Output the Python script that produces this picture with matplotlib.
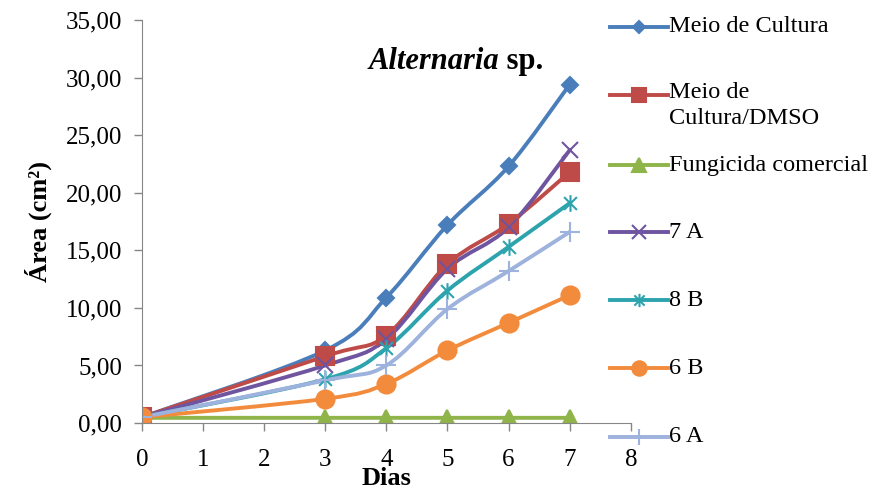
import matplotlib
matplotlib.use("Agg")
import matplotlib.pyplot as plt
import numpy as np
from matplotlib.path import Path
from matplotlib.patches import PathPatch
from matplotlib.lines import Line2D

plt.rcParams['font.family'] = ['Liberation Serif', 'DejaVu Serif']

# days observed
dias = [0, 3, 4, 5, 6, 7]

# area (cm2) per treatment
meio_cultura = [0.5, 6.3, 10.9, 17.2, 22.3, 29.4]
meio_dmso = [0.5, 5.8, 7.6, 13.8, 17.3, 21.8]
fungicida = [0.45, 0.45, 0.45, 0.45, 0.45, 0.45]
s7a = [0.5, 5.0, 7.3, 13.4, 17.0, 23.7]
s8b = [0.5, 3.8, 6.5, 11.5, 15.3, 19.1]
s6b = [0.5, 2.1, 3.4, 6.3, 8.7, 11.1]
s6a = [0.5, 3.7, 5.0, 9.9, 13.2, 16.6]

labels = ['Meio de Cultura', 'Meio de\nCultura/DMSO', 'Fungicida comercial',
          '7 A', '8 B', '6 B', '6 A']
series = [meio_cultura, meio_dmso, fungicida, s7a, s8b, s6b, s6a]

x_ticks = [0, 1, 2, 3, 4, 5, 6, 7, 8]
y_ticks = [0, 5, 10, 15, 20, 25, 30, 35]
y_ticklabels = ['0,00', '5,00', '10,00', '15,00', '20,00', '25,00', '30,00', '35,00']

# excel-like star marker (x with vertical bar)
star = Path([(-1, -1), (1, 1), (-1, 1), (1, -1), (0, -1.3), (0, 1.3)],
            [Path.MOVETO, Path.LINETO, Path.MOVETO, Path.LINETO, Path.MOVETO, Path.LINETO])

styles = [
    dict(color='#4A7EBB', marker='D', ms=8),
    dict(color='#BE4B48', marker='s', ms=13),
    dict(color='#8EB44A', marker='^', ms=12),
    dict(color='#6F54A0', marker='x', ms=12),
    dict(color='#2DA3AE', marker=star, ms=12),
    dict(color='#F38B3C', marker='o', ms=13),
    dict(color='#9DB2DC', marker='+', ms=14),
]


def smooth_path(x, y):
    # bezier control points like excel's smoothed line
    p = np.column_stack([x, y]).astype(float)
    n = len(p)
    verts = [p[0]]
    codes = [Path.MOVETO]
    for i in range(n - 1):
        p0 = p[i - 1] if i > 0 else p[i]
        p3 = p[i + 2] if i + 2 < n else p[i + 1]
        c1 = p[i] + (p[i + 1] - p0) / 6
        c2 = p[i + 1] - (p3 - p[i]) / 6
        verts += [c1, c2, p[i + 1]]
        codes += [Path.CURVE4] * 3
    return Path(verts, codes)


fig = plt.figure(figsize=(8.7, 4.93), dpi=100)
ax = fig.add_axes([0.163, 0.142, 0.562, 0.817])

for vals, st in zip(series, styles):
    ax.add_patch(PathPatch(smooth_path(dias, vals), fill=False,
                           edgecolor=st['color'], lw=2.8, capstyle='round'))
    ax.plot(dias, vals, linestyle='none', marker=st['marker'], ms=st['ms'],
            color=st['color'], mec=st['color'], mew=1.5)

ax.set_xlim(0, 8)
ax.set_ylim(0, 35)
ax.set_xticks(x_ticks)
ax.set_yticks(y_ticks)
ax.set_yticklabels(y_ticklabels)
ax.tick_params(labelsize=18, color='#868686', length=6, width=1)
ax.tick_params(axis='x', pad=13)
ax.tick_params(axis='y', pad=8)
for s in ['top', 'right']:
    ax.spines[s].set_visible(False)
for s in ['left', 'bottom']:
    ax.spines[s].set_color('#868686')
ax.set_ylabel('Área (cm²)', fontsize=19, fontweight='bold', labelpad=10)
ax.set_xlabel('Dias', fontsize=19, fontweight='bold', labelpad=-3)

t1 = ax.text(0.73, 0.88, 'Alternaria', transform=ax.transAxes, fontsize=22,
             fontstyle='italic', fontweight='bold', ha='right', va='baseline')
ax.annotate(' sp.', xy=(1, 0), xycoords=t1, fontsize=22, fontweight='bold',
            va='bottom')

# legend built on the figure
leg_y = [466, 398, 328, 261, 193, 125, 56]
for lab, st, yp in zip(labels, styles, leg_y):
    yf = yp / 493
    fig.add_artist(Line2D([610 / 870, 668 / 870], [yf, yf], color=st['color'], lw=2.8,
                          transform=fig.transFigure))
    fig.add_artist(Line2D([639 / 870], [yf], color=st['color'], marker=st['marker'],
                          ms=st['ms'] * 0.8, mew=1.5, transform=fig.transFigure))
    va = 'top' if '\n' in lab else 'center'
    fig.text(669 / 870, (yp + 13) / 493 if '\n' in lab else yf, lab,
             fontsize=17.5, va=va, ha='left', linespacing=1.3)

fig.savefig('out.png', dpi=100)
